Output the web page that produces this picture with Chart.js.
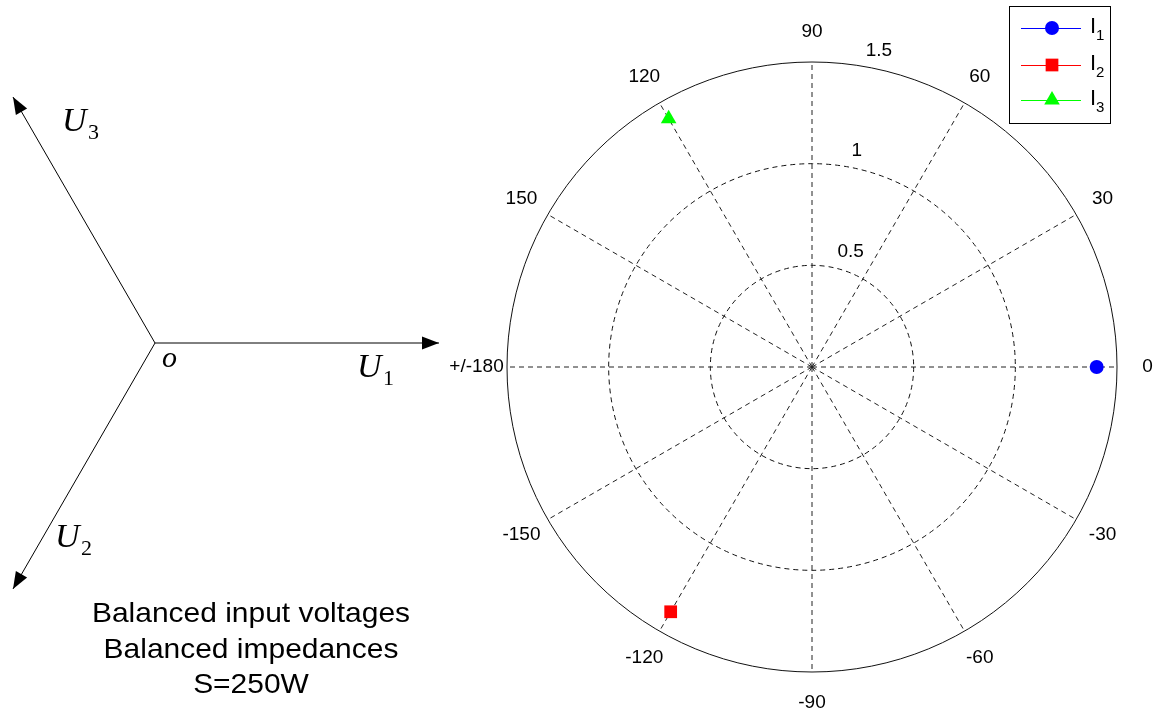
<!DOCTYPE html>
<html>
<head>
<meta charset="utf-8">
<script src="https://cdn.jsdelivr.net/npm/chart.js@4/dist/chart.umd.min.js"></script>
<style>
  body { margin: 0; background: #fff; }
  #wrap { position: relative; width: 1160px; height: 713px; overflow: hidden; }
  canvas { position: absolute; top: 0; }
  #phasors { left: 0; }
  #polar { left: 440px; }
</style>
</head>
<body>
<div id="wrap">
  <canvas id="phasors" width="445" height="713"></canvas>
  <canvas id="polar" width="720" height="713"></canvas>
</div>
<script>
// tensioni in ingresso (diagramma fasoriale a sinistra)
const voltageNames = ['U1', 'U2', 'U3']
const voltageMagnitudes = [1, 1, 1]
const voltageAngles = [0, -120, 120]

// correnti (grafico polare a destra)
const currentNames = ['1', '2', '3']
const currentMagnitudes = [1.40, 1.39, 1.41]
const currentAngles = [0, -120, 120]
const currentColors = ['#0000ff', '#ff0000', '#00ff00']
const currentMarkers = ['circle', 'rect', 'triangle']

// etichette degli angoli, in senso orario partendo dall'alto
const angleLabels = ['90', '60', '30', '0', '-30', '-60', '-90', '-120', '-150', '+/-180', '150', '120']
const radialTicks = [0.5, 1, 1.5]

const sans = '"Liberation Sans", Arial, sans-serif'
const serif = '"Liberation Serif", "Times New Roman", serif'

/*##############
  # FASORI     #
  ##############*/
const rad = a => a * Math.PI / 180

const phasorSets = voltageNames.map((name, i) => ({
  label: name,
  data: [
    { x: 0, y: 0 },
    { x: voltageMagnitudes[i] * Math.cos(rad(voltageAngles[i])), y: voltageMagnitudes[i] * Math.sin(rad(voltageAngles[i])) }
  ],
  showLine: true,
  borderColor: '#000',
  borderWidth: 1,
  pointRadius: 0
}))

// punte delle frecce + scritte
const arrowHeads = {
  id: 'arrowHeads',
  afterDatasetsDraw(chart) {
    const { ctx } = chart
    ctx.save()
    ctx.fillStyle = '#000'
    chart.data.datasets.forEach((ds, i) => {
      const pts = chart.getDatasetMeta(i).data
      const p0 = pts[0], p1 = pts[1]
      const a = Math.atan2(p1.y - p0.y, p1.x - p0.x)
      const len = 17, half = 6.5
      ctx.beginPath()
      ctx.moveTo(p1.x, p1.y)
      ctx.lineTo(p1.x - len * Math.cos(a) - half * Math.sin(a), p1.y - len * Math.sin(a) + half * Math.cos(a))
      ctx.lineTo(p1.x - len * Math.cos(a) + half * Math.sin(a), p1.y - len * Math.sin(a) - half * Math.cos(a))
      ctx.closePath()
      ctx.fill()
    })

    ctx.textAlign = 'left'
    ctx.textBaseline = 'alphabetic'
    const uLabel = (x, y, sub) => {
      ctx.font = 'italic 34px ' + serif
      ctx.fillText('U', x, y)
      ctx.font = '22px ' + serif
      ctx.fillText(sub, x + 26, y + 8)
    }
    uLabel(357, 377, '1')
    uLabel(55, 547, '2')
    uLabel(62, 131, '3')
    ctx.font = 'italic 30px ' + serif
    ctx.fillText('o', 162, 367)

    // testo sotto, un po' allargato come nell'originale
    ctx.textAlign = 'center'
    ctx.font = '28px ' + sans
    ctx.translate(251, 0)
    ctx.scale(1.07, 1)
    ctx.fillText('Balanced input voltages', 0, 622)
    ctx.fillText('Balanced impedances', 0, 658)
    ctx.fillText('S=250W', 0, 693)
    ctx.restore()
  }
}

// origine in (155, 343), 284 px per unità
new Chart(document.getElementById('phasors'), {
  type: 'scatter',
  data: { datasets: phasorSets },
  plugins: [arrowHeads],
  options: {
    responsive: false,
    animation: false,
    layout: { padding: 0 },
    plugins: { legend: { display: false }, tooltip: { enabled: false } },
    scales: {
      x: { display: false, min: -155 / 284, max: (445 - 155) / 284 },
      y: { display: false, min: -(713 - 343) / 284, max: 343 / 284 }
    }
  }
})

/*##############
  # POLARE     #
  ##############*/
const currentSets = currentNames.map((name, i) => {
  const data = angleLabels.map(() => null)
  const idx = angleLabels.findIndex(l => l === String(currentAngles[i]))
  data[idx] = currentMagnitudes[i]
  return {
    label: 'I' + name,
    sub: name,
    data: data,
    showLine: false,
    borderColor: currentColors[i],
    backgroundColor: currentColors[i],
    borderWidth: 1,
    pointStyle: currentMarkers[i],
    pointRadius: currentMarkers[i] === 'circle' ? 7 : 9,
    pointBorderWidth: 0
  }
})

const polarText = {
  id: 'polarText',
  afterDraw(chart) {
    const { ctx } = chart
    const r = chart.scales.r
    ctx.save()
    ctx.fillStyle = '#000'
    ctx.font = '19px ' + sans

    // etichette degli angoli
    ctx.textAlign = 'center'
    ctx.textBaseline = 'middle'
    angleLabels.forEach((lab, i) => {
      const p = r.getPointPosition(i, r.drawingArea * 1.1)
      ctx.fillText(lab, p.x, p.y)
    })

    // etichette radiali a 82 gradi
    ctx.textAlign = 'left'
    ctx.textBaseline = 'bottom'
    radialTicks.forEach(v => {
      const d = r.getDistanceFromCenterForValue(v + 0.025)
      ctx.fillText('  ' + v, r.xCenter + d * Math.cos(rad(82)), r.yCenter - d * Math.sin(rad(82)))
    })

    // legenda
    const bx = 569.5, by = 6.5, bw = 101, bh = 117
    ctx.fillStyle = '#fff'
    ctx.fillRect(bx, by, bw, bh)
    ctx.strokeStyle = '#000'
    ctx.lineWidth = 1
    ctx.strokeRect(bx, by, bw, bh)
    const rows = [28, 65, 100]
    chart.data.datasets.forEach((ds, i) => {
      const y = rows[i]
      ctx.strokeStyle = ds.borderColor
      ctx.beginPath()
      ctx.moveTo(581, y + 0.5)
      ctx.lineTo(641, y + 0.5)
      ctx.stroke()
      ctx.fillStyle = ds.backgroundColor
      Chart.helpers.drawPoint(ctx, { pointStyle: ds.pointStyle, radius: ds.pointRadius, borderWidth: 0 }, 612, y)
      ctx.fillStyle = '#000'
      ctx.textBaseline = 'alphabetic'
      ctx.font = '22px ' + sans
      ctx.fillText('I', 650, y + 5)
      ctx.font = '15px ' + sans
      ctx.fillText(ds.sub, 656, y + 12)
    })
    ctx.restore()
  }
}

new Chart(document.getElementById('polar'), {
  type: 'radar',
  data: { labels: angleLabels, datasets: currentSets },
  plugins: [polarText],
  options: {
    responsive: false,
    animation: false,
    layout: { padding: { left: 67, right: 43, top: 62, bottom: 41 } },
    plugins: { legend: { display: false }, tooltip: { enabled: false } },
    scales: {
      r: {
        min: 0,
        max: 1.5,
        startAngle: 0,
        ticks: { stepSize: 0.5, display: false },
        pointLabels: { display: false },
        grid: { circular: true, color: '#111', lineWidth: 1 },
        border: { dash: ctx => ctx.index === 3 ? [] : [5, 4] },
        angleLines: { color: '#222', lineWidth: 1, borderDash: [5, 4] }
      }
    }
  }
})
</script>
</body>
</html>
